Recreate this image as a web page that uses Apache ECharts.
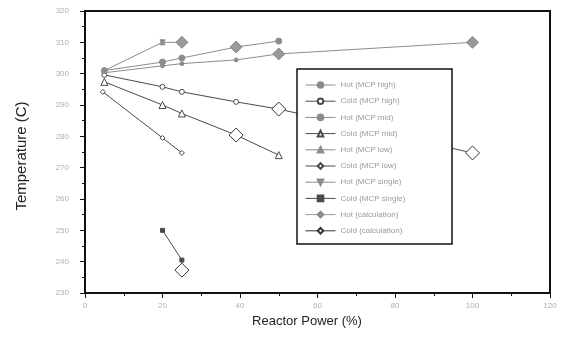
<!DOCTYPE html>
<html><head><meta charset="utf-8">
<script src="https://cdn.jsdelivr.net/npm/echarts@6/dist/echarts.min.js"></script>
<style>html,body{margin:0;padding:0;background:#fff}#c{width:562px;height:344px}</style>
</head><body><div id="c"></div>
<script>
// Data (Reactor Power %, Temperature C)
const seriesNames = ["Hot (MCP high)","Cold (MCP high)","Hot (MCP mid)","Cold (MCP mid)","Hot (MCP low)","Cold (MCP low)","Hot (MCP single)","Cold (MCP single)","Hot (calculation)","Cold (calculation)"];
const hotHigh   = [[5,300.3],[20,302.5],[25,303.2],[39,304.4],[50,306.3],[100,310]];
const coldHigh  = [[5,299.6],[20,295.8],[25,294.2],[39,291],[50,288.7],[100,274.7]];
const hotMid    = [[5,301],[20,303.7],[25,305],[39,308.5],[50,310.4]];
const coldMid   = [[5,297.4],[20,290],[25,287.3],[39,280.4],[50,274]];
const hotLow    = [[5,301],[20,310]];
const coldLow   = [[4.6,294.2],[20,279.5],[25,274.7]];
const hotSingle = [[20,310],[25,310]];
const coldSingle= [[20,250],[25,240.5]];
const hotCalc   = [[25,310],[39,308.5],[50,306.3],[100,310]];
const coldCalc  = [[25,237.3],[39,280.4],[50,288.7],[100,274.7]];
const xTicks = [0,20,40,60,80,100,120];
const yTicks = [230,240,250,260,270,280,290,300,310,320];

const HOT = '#8c8c8c', COLD = '#4a4a4a';
function line(name, data, color, symbol, size, extra){
  return Object.assign({name, type:'line', data, symbol, symbolSize:size, showSymbol:true,
    lineStyle:{color, width:1}, itemStyle:{color, borderColor:color, borderWidth:1}, emphasis:{disabled:true}, animation:false, z:2}, extra||{});
}
const series = [
  line(seriesNames[0], hotHigh, HOT, 'circle', 4),
  line(seriesNames[1], coldHigh, COLD, 'circle', 5, {itemStyle:{color:'#fff', borderColor:COLD, borderWidth:1}}),
  line(seriesNames[2], hotMid, HOT, 'circle', 6),
  line(seriesNames[3], coldMid, COLD, 'triangle', 7, {itemStyle:{color:'#fff', borderColor:COLD, borderWidth:1}}),
  line(seriesNames[4], hotLow, HOT, 'triangle', 5),
  line(seriesNames[5], coldLow, COLD, 'diamond', 5, {itemStyle:{color:'#fff', borderColor:COLD, borderWidth:1}}),
  line(seriesNames[6], hotSingle, HOT, 'triangle', 5, {symbolRotate:180}),
  line(seriesNames[7], coldSingle, COLD, 'rect', 4),
  line(seriesNames[8], hotCalc, '#999', 'diamond', 12, {lineStyle:{width:0, opacity:0, color:'#999'}, itemStyle:{color:'#999', borderColor:'#888', borderWidth:1}, z:3}),
  line(seriesNames[9], coldCalc, '#333', 'diamond', 14, {lineStyle:{width:0, opacity:0, color:'#333'}, itemStyle:{color:'#fff', borderColor:'#333', borderWidth:1}, z:3})
];

const legendData = seriesNames.map((n, i) => i >= 8
  ? {name:n, lineStyle:{width:1, opacity:1}}
  : {name:n});

const chart = echarts.init(document.getElementById('c'), null, {renderer:'canvas'});
const axisCommon = {
  axisLine:{show:true, lineStyle:{color:'#111', width:2}},
  axisTick:{show:true, inside:false, length:5, lineStyle:{color:'#111', width:1}},
  minorTick:{show:true, splitNumber:2, length:3, lineStyle:{color:'#111'}},
  splitLine:{show:false},
  axisLabel:{color:'#b0b0b0', fontSize:8, fontFamily:'Arial, Liberation Sans'}
};
chart.setOption({
  animation:false,
  grid:{left:85, right:12, top:11, bottom:51, show:true, borderColor:'#111', borderWidth:2, backgroundColor:'transparent'},
  xAxis:Object.assign({type:'value', min:xTicks[0], max:xTicks[xTicks.length-1], interval:20}, axisCommon,
    {axisLabel:Object.assign({}, axisCommon.axisLabel, {margin:9})}),
  yAxis:Object.assign({type:'value', min:yTicks[0], max:yTicks[yTicks.length-1], interval:10}, axisCommon,
    {axisLabel:Object.assign({}, axisCommon.axisLabel, {margin:16})}),
  legend:{
    orient:'vertical', left:305, top:81, itemWidth:30, itemHeight:7, itemGap:8.2, padding:0,
    data:legendData, selectedMode:false, z:5,
    lineStyle:{width:1},
    textStyle:{color:'#9a9a9a', fontSize:8, fontFamily:'Arial, Liberation Sans'}
  },
  graphic:[
    {type:'rect', z:4, shape:{x:297, y:69, width:155, height:175}, style:{fill:'#fff', stroke:'#111', lineWidth:1.5}},
    {type:'text', x:22, y:156, rotation:Math.PI/2, style:{text:'Temperature (C)', fill:'#222', font:'15px Arial, Liberation Sans', align:'center', verticalAlign:'middle'}},
    {type:'text', x:307, y:321, style:{text:'Reactor Power (%)', fill:'#222', font:'13px Arial, Liberation Sans', align:'center', verticalAlign:'middle'}}
  ],
  series
});
</script></body></html>
